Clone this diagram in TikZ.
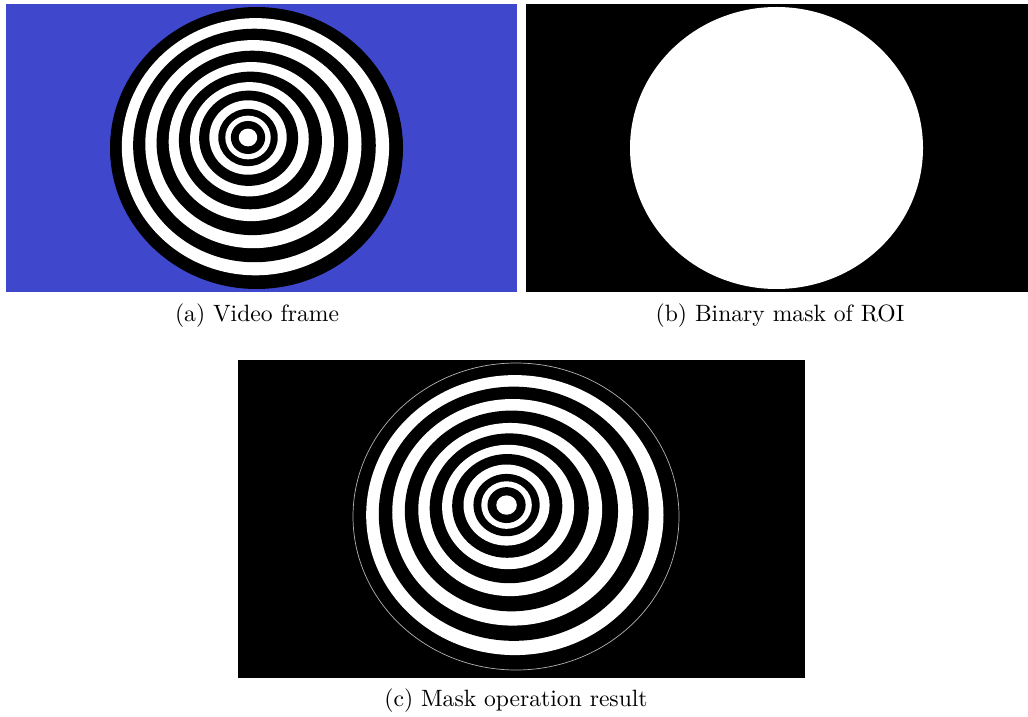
\documentclass[tikz,border=0pt]{standalone}
\usepackage{tikz}
\usetikzlibrary{positioning}
\definecolor{paintblue}{HTML}{3F48CC}

% concentric target, #1,#2 centre, #3,#4 outer radii
\newcommand{\bullseye}[4]{%
  \foreach \f/\c in {1.000/black,0.912/white,0.828/black,0.738/white,0.654/black,
                     0.564/white,0.488/black,0.405/white,0.338/black,0.264/white,
                     0.203/black,0.155/white,0.117/black,0.063/white}{
    \pgfmathsetmacro{\s}{min(1,1.4*(1-\f))}
    \fill[\c] ({#1-0.058*\s*#3},{#2+0.0745*\s*#4}) ellipse [x radius={\f*#3}, y radius={\f*#4}];
  }%
}

\begin{document}
\begin{tikzpicture}[x=0.4237pt,y=0.4237pt,
  subcap/.style={anchor=base,inner sep=0pt,font=\normalsize}]
\useasboundingbox (0,0) rectangle (1028,-717);

% (a) video frame
\fill[paintblue] (6,-4) rectangle (517,-292);
\bullseye{256.5}{-148}{146.5}{141}
\node[subcap] (capa) at (257,-321) {(a) Video frame};

% (b) mask
\begin{scope}
\clip (526,-4) rectangle (1028,-292);
\fill[black] (526,-4) rectangle (1037,-292);
\fill[white] (776.5,-148) ellipse [x radius=146.5, y radius=141];
\end{scope}
\node[subcap] (capb) at (780,-321) {(b) Binary mask of ROI};

% (c) result
\fill[black] (238,-360) rectangle (805,-678);
\bullseye{516}{-516.5}{163}{153.5}
\draw[gray!60,line width=0.3pt] (516,-516.5) ellipse [x radius=163, y radius=153.5];
\node[subcap] (capc) at (516,-706) {(c) Mask operation result};
\end{tikzpicture}
\end{document}
